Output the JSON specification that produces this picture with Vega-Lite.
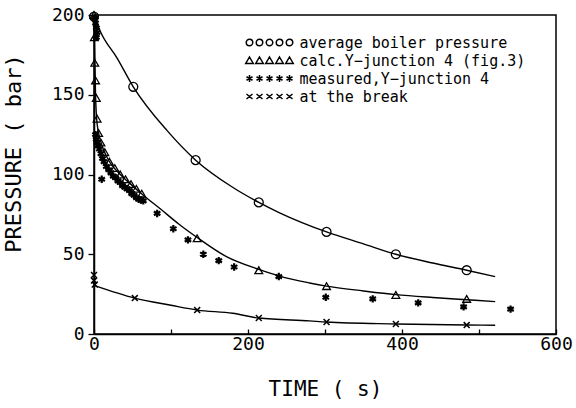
{
  "$schema": "https://vega.github.io/schema/vega-lite/v6.json",
  "width": 462,
  "height": 319,
  "autosize": {"type": "none"},
  "padding": {"left": 94, "top": 15, "right": 20, "bottom": 74},
  "background": "white",
  "config": {
    "view": {"stroke": "black", "strokeWidth": 1.5},
    "axis": {
      "grid": false,
      "domainColor": "black",
      "domainWidth": 1.5,
      "tickColor": "black",
      "tickWidth": 1.3,
      "labelColor": "black",
      "labelFont": "DejaVu Sans Mono",
      "labelFontSize": 18,
      "titleColor": "black",
      "titleFont": "DejaVu Sans Mono",
      "titleFontSize": 21,
      "titleFontWeight": "normal"
    },
    "legend": {
      "labelFont": "DejaVu Sans Mono",
      "labelFontSize": 15,
      "labelColor": "black"
    }
  },
  "datasets": {
    "curves": [
      {"s": "average boiler pressure", "t": 0, "P": 200},
      {"s": "average boiler pressure", "t": 8, "P": 190},
      {"s": "average boiler pressure", "t": 30, "P": 173},
      {"s": "average boiler pressure", "t": 51, "P": 155},
      {"s": "average boiler pressure", "t": 95, "P": 127.5},
      {"s": "average boiler pressure", "t": 132, "P": 109},
      {"s": "average boiler pressure", "t": 180, "P": 92},
      {"s": "average boiler pressure", "t": 214, "P": 82.5},
      {"s": "average boiler pressure", "t": 241, "P": 76},
      {"s": "average boiler pressure", "t": 302, "P": 64},
      {"s": "average boiler pressure", "t": 350, "P": 56.5},
      {"s": "average boiler pressure", "t": 392, "P": 50},
      {"s": "average boiler pressure", "t": 440, "P": 44.5},
      {"s": "average boiler pressure", "t": 484, "P": 40},
      {"s": "average boiler pressure", "t": 521, "P": 36},
      {"s": "calc.Y−junction 4 (fig.3)", "t": 0, "P": 200},
      {"s": "calc.Y−junction 4 (fig.3)", "t": 1, "P": 175},
      {"s": "calc.Y−junction 4 (fig.3)", "t": 2, "P": 150},
      {"s": "calc.Y−junction 4 (fig.3)", "t": 4, "P": 132},
      {"s": "calc.Y−junction 4 (fig.3)", "t": 8, "P": 122},
      {"s": "calc.Y−junction 4 (fig.3)", "t": 12, "P": 116},
      {"s": "calc.Y−junction 4 (fig.3)", "t": 20, "P": 108},
      {"s": "calc.Y−junction 4 (fig.3)", "t": 30, "P": 102},
      {"s": "calc.Y−junction 4 (fig.3)", "t": 43, "P": 96},
      {"s": "calc.Y−junction 4 (fig.3)", "t": 64, "P": 87},
      {"s": "calc.Y−junction 4 (fig.3)", "t": 86, "P": 78.5},
      {"s": "calc.Y−junction 4 (fig.3)", "t": 110, "P": 69},
      {"s": "calc.Y−junction 4 (fig.3)", "t": 134, "P": 60.5},
      {"s": "calc.Y−junction 4 (fig.3)", "t": 172, "P": 48.5},
      {"s": "calc.Y−junction 4 (fig.3)", "t": 214, "P": 40.5},
      {"s": "calc.Y−junction 4 (fig.3)", "t": 241, "P": 36.3},
      {"s": "calc.Y−junction 4 (fig.3)", "t": 280, "P": 32},
      {"s": "calc.Y−junction 4 (fig.3)", "t": 302, "P": 30},
      {"s": "calc.Y−junction 4 (fig.3)", "t": 350, "P": 27},
      {"s": "calc.Y−junction 4 (fig.3)", "t": 392, "P": 24.7},
      {"s": "calc.Y−junction 4 (fig.3)", "t": 440, "P": 22.9},
      {"s": "calc.Y−junction 4 (fig.3)", "t": 484, "P": 21.5},
      {"s": "calc.Y−junction 4 (fig.3)", "t": 521, "P": 20.3},
      {"s": "at the break", "t": 0, "P": 30.5},
      {"s": "at the break", "t": 53, "P": 22.5},
      {"s": "at the break", "t": 100, "P": 18},
      {"s": "at the break", "t": 134, "P": 15},
      {"s": "at the break", "t": 180, "P": 13},
      {"s": "at the break", "t": 214, "P": 10},
      {"s": "at the break", "t": 280, "P": 8.2},
      {"s": "at the break", "t": 302, "P": 7.5},
      {"s": "at the break", "t": 392, "P": 6.3},
      {"s": "at the break", "t": 484, "P": 5.6},
      {"s": "at the break", "t": 521, "P": 5.5}
    ],
    "markers": [
      {"s": "average boiler pressure", "t": 0, "P": 199},
      {"s": "average boiler pressure", "t": 51, "P": 155},
      {"s": "average boiler pressure", "t": 132, "P": 109},
      {"s": "average boiler pressure", "t": 214, "P": 82.5},
      {"s": "average boiler pressure", "t": 302, "P": 64},
      {"s": "average boiler pressure", "t": 392, "P": 50},
      {"s": "average boiler pressure", "t": 484, "P": 40},
      {"s": "calc.Y−junction 4 (fig.3)", "t": 0, "P": 200},
      {"s": "calc.Y−junction 4 (fig.3)", "t": 0.5, "P": 186},
      {"s": "calc.Y−junction 4 (fig.3)", "t": 1, "P": 170},
      {"s": "calc.Y−junction 4 (fig.3)", "t": 2, "P": 159},
      {"s": "calc.Y−junction 4 (fig.3)", "t": 3, "P": 148},
      {"s": "calc.Y−junction 4 (fig.3)", "t": 4, "P": 135},
      {"s": "calc.Y−junction 4 (fig.3)", "t": 6, "P": 126},
      {"s": "calc.Y−junction 4 (fig.3)", "t": 9, "P": 120},
      {"s": "calc.Y−junction 4 (fig.3)", "t": 14, "P": 114},
      {"s": "calc.Y−junction 4 (fig.3)", "t": 20, "P": 108},
      {"s": "calc.Y−junction 4 (fig.3)", "t": 27, "P": 104},
      {"s": "calc.Y−junction 4 (fig.3)", "t": 34, "P": 100},
      {"s": "calc.Y−junction 4 (fig.3)", "t": 41, "P": 97},
      {"s": "calc.Y−junction 4 (fig.3)", "t": 48, "P": 94},
      {"s": "calc.Y−junction 4 (fig.3)", "t": 55, "P": 91},
      {"s": "calc.Y−junction 4 (fig.3)", "t": 62, "P": 88},
      {"s": "calc.Y−junction 4 (fig.3)", "t": 134, "P": 60},
      {"s": "calc.Y−junction 4 (fig.3)", "t": 214, "P": 40},
      {"s": "calc.Y−junction 4 (fig.3)", "t": 302, "P": 30},
      {"s": "calc.Y−junction 4 (fig.3)", "t": 392, "P": 24.5},
      {"s": "calc.Y−junction 4 (fig.3)", "t": 484, "P": 22},
      {"s": "measured,Y−junction 4", "t": 1, "P": 198},
      {"s": "measured,Y−junction 4", "t": 2, "P": 195},
      {"s": "measured,Y−junction 4", "t": 3, "P": 192},
      {"s": "measured,Y−junction 4", "t": 4, "P": 189},
      {"s": "measured,Y−junction 4", "t": 3, "P": 186},
      {"s": "measured,Y−junction 4", "t": 2, "P": 125},
      {"s": "measured,Y−junction 4", "t": 3, "P": 122},
      {"s": "measured,Y−junction 4", "t": 4, "P": 120},
      {"s": "measured,Y−junction 4", "t": 5, "P": 118},
      {"s": "measured,Y−junction 4", "t": 7, "P": 116},
      {"s": "measured,Y−junction 4", "t": 9, "P": 113},
      {"s": "measured,Y−junction 4", "t": 10, "P": 97},
      {"s": "measured,Y−junction 4", "t": 11, "P": 110},
      {"s": "measured,Y−junction 4", "t": 13, "P": 108},
      {"s": "measured,Y−junction 4", "t": 16, "P": 105},
      {"s": "measured,Y−junction 4", "t": 19, "P": 103},
      {"s": "measured,Y−junction 4", "t": 22, "P": 101},
      {"s": "measured,Y−junction 4", "t": 25, "P": 99},
      {"s": "measured,Y−junction 4", "t": 28, "P": 98},
      {"s": "measured,Y−junction 4", "t": 31, "P": 96},
      {"s": "measured,Y−junction 4", "t": 34, "P": 95},
      {"s": "measured,Y−junction 4", "t": 37, "P": 93},
      {"s": "measured,Y−junction 4", "t": 40, "P": 92},
      {"s": "measured,Y−junction 4", "t": 43, "P": 91},
      {"s": "measured,Y−junction 4", "t": 46, "P": 90},
      {"s": "measured,Y−junction 4", "t": 49, "P": 88},
      {"s": "measured,Y−junction 4", "t": 52, "P": 87},
      {"s": "measured,Y−junction 4", "t": 55, "P": 85.5},
      {"s": "measured,Y−junction 4", "t": 58, "P": 84.5},
      {"s": "measured,Y−junction 4", "t": 61, "P": 84},
      {"s": "measured,Y−junction 4", "t": 64, "P": 83.5},
      {"s": "measured,Y−junction 4", "t": 82, "P": 75.6},
      {"s": "measured,Y−junction 4", "t": 103, "P": 66},
      {"s": "measured,Y−junction 4", "t": 122, "P": 59},
      {"s": "measured,Y−junction 4", "t": 142, "P": 50},
      {"s": "measured,Y−junction 4", "t": 162, "P": 46},
      {"s": "measured,Y−junction 4", "t": 182, "P": 42},
      {"s": "measured,Y−junction 4", "t": 240, "P": 36},
      {"s": "measured,Y−junction 4", "t": 301, "P": 23},
      {"s": "measured,Y−junction 4", "t": 362, "P": 22},
      {"s": "measured,Y−junction 4", "t": 421, "P": 19.5},
      {"s": "measured,Y−junction 4", "t": 480, "P": 17},
      {"s": "measured,Y−junction 4", "t": 541, "P": 15.6},
      {"s": "at the break", "t": 0, "P": 37},
      {"s": "at the break", "t": 0, "P": 33.5},
      {"s": "at the break", "t": 1, "P": 31},
      {"s": "at the break", "t": 53, "P": 22.5},
      {"s": "at the break", "t": 134, "P": 15},
      {"s": "at the break", "t": 214, "P": 10},
      {"s": "at the break", "t": 302, "P": 7.5},
      {"s": "at the break", "t": 392, "P": 6.3},
      {"s": "at the break", "t": 484, "P": 5.6}
    ]
  },
  "encoding": {
    "x": {
      "field": "t", "type": "quantitative",
      "scale": {"domain": [0, 600], "nice": false},
      "axis": {
        "title": "TIME ( s)",
        "values": [0, 100, 200, 300, 400, 500, 600],
        "labelExpr": "datum.value % 200 == 0 ? datum.label : ''",
        "tickSize": -5,
        "labelPadding": 6,
        "titlePadding": 25,
        "labelFlush": false
      }
    },
    "y": {
      "field": "P", "type": "quantitative",
      "scale": {"domain": [0, 200], "nice": false},
      "axis": {
        "title": "PRESSURE ( bar)",
        "titleFontSize": 22,
        "values": [0, 50, 100, 150, 200],
        "tickSize": 6,
        "labelPadding": 4,
        "titleX": -69,
        "titleY": 138,
        "labelFlush": false
      }
    }
  },
  "layer": [
    {
      "data": {"name": "curves"},
      "mark": {"type": "line", "color": "black", "strokeWidth": 1.4, "interpolate": "monotone"},
      "encoding": {"detail": {"field": "s"}}
    },
    {
      "data": {"name": "markers"},
      "transform": [{"filter": "datum.s == 'average boiler pressure'"}],
      "mark": {"type": "point", "shape": "circle", "filled": false, "stroke": "black", "strokeWidth": 1.3, "size": 80, "opacity": 1}
    },
    {
      "data": {"name": "markers"},
      "transform": [{"filter": "datum.s == 'calc.Y−junction 4 (fig.3)'"}],
      "mark": {"type": "point", "shape": "triangle-up", "filled": false, "stroke": "black", "strokeWidth": 1.3, "size": 60, "opacity": 1}
    },
    {
      "data": {"name": "markers"},
      "transform": [{"filter": "datum.s == 'measured,Y−junction 4'"}],
      "mark": {"type": "point", "shape": "M0,-1L0,1M-0.87,-0.5L0.87,0.5M-0.87,0.5L0.87,-0.5", "filled": false, "stroke": "black", "strokeWidth": 2.2, "size": 55, "opacity": 1}
    },
    {
      "data": {"name": "markers"},
      "transform": [{"filter": "datum.s == 'at the break'"}],
      "mark": {"type": "point", "shape": "M-1,-1L1,1M-1,1L1,-1", "filled": false, "stroke": "black", "strokeWidth": 1.5, "size": 35, "opacity": 1}
    },
    {
      "data": {"name": "markers"},
      "mark": {"type": "point", "filled": false, "opacity": 0},
      "encoding": {
        "shape": {
          "field": "s", "type": "nominal",
          "scale": {
            "domain": ["average boiler pressure", "calc.Y−junction 4 (fig.3)", "measured,Y−junction 4", "at the break"],
            "range": [
              "M-3.35,0A0.65,0.65 0 1 1 -4.65,0A0.65,0.65 0 1 1 -3.35,0M-1.35,0A0.65,0.65 0 1 1 -2.65,0A0.65,0.65 0 1 1 -1.35,0M0.65,0A0.65,0.65 0 1 1 -0.65,0A0.65,0.65 0 1 1 0.65,0M2.65,0A0.65,0.65 0 1 1 1.35,0A0.65,0.65 0 1 1 2.65,0M4.65,0A0.65,0.65 0 1 1 3.35,0A0.65,0.65 0 1 1 4.65,0",
              "M-4,-0.7L-3.25,0.6L-4.75,0.6ZM-2,-0.7L-1.25,0.6L-2.75,0.6ZM0,-0.7L0.75,0.6L-0.75,0.6ZM2,-0.7L2.75,0.6L1.25,0.6ZM4,-0.7L4.75,0.6L3.25,0.6Z",
              "M-4,-0.7L-4,0.7M-4.6,-0.35L-3.4,0.35M-4.6,0.35L-3.4,-0.35M-2,-0.7L-2,0.7M-2.6,-0.35L-1.4,0.35M-2.6,0.35L-1.4,-0.35M0,-0.7L0,0.7M-0.6,-0.35L0.6,0.35M-0.6,0.35L0.6,-0.35M2,-0.7L2,0.7M1.4,-0.35L2.6,0.35M1.4,0.35L2.6,-0.35M4,-0.7L4,0.7M3.4,-0.35L4.6,0.35M3.4,0.35L4.6,-0.35",
              "M-4.6,-0.5L-3.4,0.5M-4.6,0.5L-3.4,-0.5M-2.6,-0.5L-1.4,0.5M-2.6,0.5L-1.4,-0.5M-0.6,-0.5L0.6,0.5M-0.6,0.5L0.6,-0.5M1.4,-0.5L2.6,0.5M1.4,0.5L2.6,-0.5M3.4,-0.5L4.6,0.5M3.4,0.5L4.6,-0.5"
            ]
          },
          "legend": {
            "title": null,
            "orient": "none",
            "legendX": 168,
            "legendY": 20,
            "padding": 0,
            "labelOffset": 22.5,
            "rowPadding": 2,
            "labelLimit": 400,
            "symbolOpacity": 1,
            "symbolStrokeColor": "black",
            "symbolFillColor": "transparent",
            "symbolStrokeWidth": 1.5,
            "encode": {
              "symbols": {
                "update": {
                  "opacity": {"value": 1},
                  "fill": {"value": "transparent"},
                  "stroke": {"value": "black"},
                  "strokeWidth": {"value": 1.5}
                }
              }
            }
          }
        }
      }
    }
  ]
}
